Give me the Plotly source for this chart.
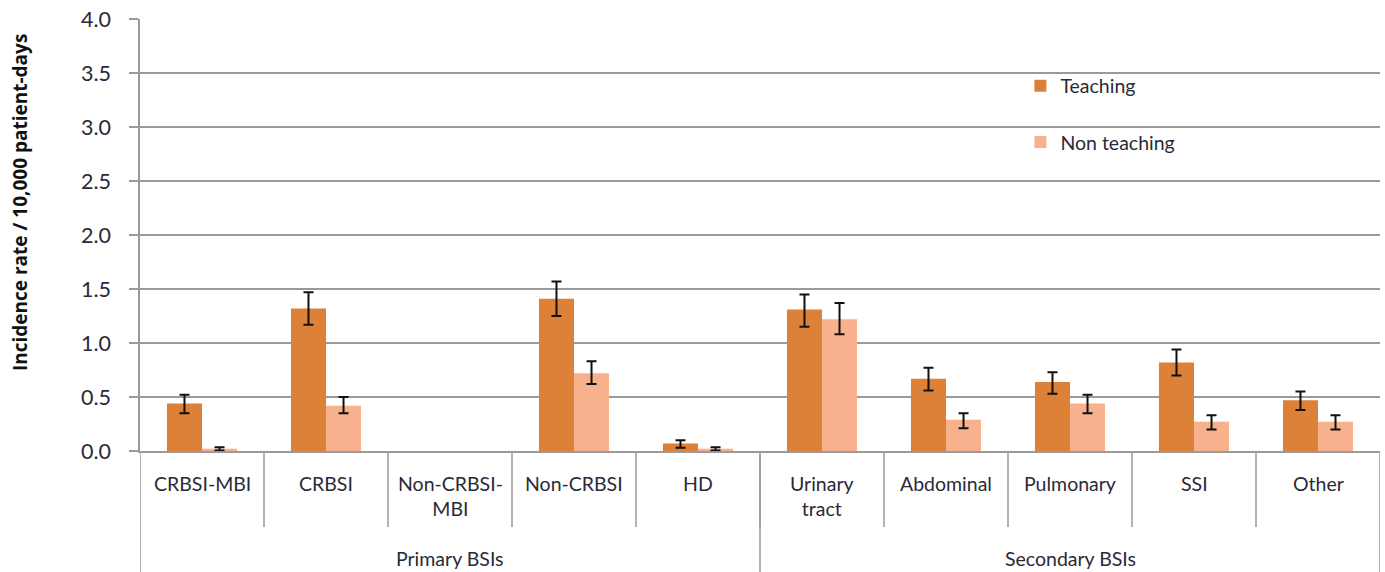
import plotly.graph_objects as go

# Incidence rates of bloodstream infections per 10,000 patient-days
categories = ["CRBSI-MBI", "CRBSI", "Non-CRBSI-<br>MBI", "Non-CRBSI", "HD",
              "Urinary<br>tract", "Abdominal", "Pulmonary", "SSI", "Other"]
groups = ["Primary BSIs", "Secondary BSIs"]
group_sizes = [5, 5]

teaching = [0.44, 1.32, 0.0, 1.41, 0.07, 1.31, 0.67, 0.64, 0.82, 0.47]
teaching_hi = [0.52, 1.47, None, 1.57, 0.10, 1.45, 0.77, 0.73, 0.94, 0.55]
teaching_lo = [0.35, 1.17, None, 1.25, 0.03, 1.15, 0.56, 0.53, 0.70, 0.38]

non_teaching = [0.02, 0.42, 0.0, 0.72, 0.02, 1.22, 0.29, 0.44, 0.27, 0.27]
non_teaching_hi = [0.035, 0.50, None, 0.83, 0.035, 1.37, 0.35, 0.52, 0.33, 0.33]
non_teaching_lo = [0.005, 0.35, None, 0.62, 0.005, 1.08, 0.21, 0.35, 0.20, 0.20]

y_ticks = [0.0, 0.5, 1.0, 1.5, 2.0, 2.5, 3.0, 3.5, 4.0]

TEACH_COLOR = "#DD8038"
NON_COLOR = "#F7B18C"
TEXT_COLOR = "#2a2a38"
FONT = "Lato, 'Open Sans', sans-serif"
LINE_GREY = "#9a9a9a"


def shown(vals, bound):
    # categories without a confidence interval have no reported cases
    return [v if b is not None else None for v, b in zip(vals, bound)]


def err(vals, bound, upper):
    out = []
    for v, b in zip(vals, bound):
        if b is None:
            out.append(None)
        else:
            out.append(round((b - v) if upper else (v - b), 4))
    return out


x = list(range(len(categories)))

fig = go.Figure()
fig.add_trace(go.Bar(
    x=x, y=shown(teaching, teaching_hi), name="Teaching",
    marker_color=TEACH_COLOR, marker_line_width=0, legendgroup="a",
    error_y=dict(type="data", symmetric=False,
                 array=err(teaching, teaching_hi, True),
                 arrayminus=err(teaching, teaching_lo, False),
                 color="#111111", thickness=2, width=5),
))
fig.add_trace(go.Bar(
    x=x, y=shown(non_teaching, non_teaching_hi), name="Non teaching",
    marker_color=NON_COLOR, marker_line_width=0, legendgroup="b",
    error_y=dict(type="data", symmetric=False,
                 array=err(non_teaching, non_teaching_hi, True),
                 arrayminus=err(non_teaching, non_teaching_lo, False),
                 color="#111111", thickness=2, width=5),
))

shapes = []
annotations = []
n = len(categories)

# Category dividers below the axis
for i in range(1, n):
    shapes.append(dict(type="line", xref="x", yref="paper",
                       x0=i - 0.5, x1=i - 0.5, y0=0, y1=-0.176,
                       line=dict(color=LINE_GREY, width=1.5)))

# Group dividers reaching the bottom edge
edges = [0]
for s in group_sizes:
    edges.append(edges[-1] + s)
for e in edges:
    shapes.append(dict(type="line", xref="x", yref="paper",
                       x0=e - 0.5, x1=e - 0.5, y0=0, y1=-0.29,
                       line=dict(color=LINE_GREY, width=1.5)))

# Category labels
for i, c in enumerate(categories):
    annotations.append(dict(x=i, y=0, xref="x", yref="paper", text=c,
                            showarrow=False, yanchor="top", yshift=-19,
                            font=dict(family=FONT, size=19.5, color=TEXT_COLOR),
                            align="center"))

# Group labels
for g, a, b in zip(groups, edges[:-1], edges[1:]):
    annotations.append(dict(x=(a + b - 1) / 2, y=0, xref="x", yref="paper",
                            text=g, showarrow=False, yanchor="middle",
                            yshift=-107,
                            font=dict(family=FONT, size=19.5, color=TEXT_COLOR)))

# Y-axis title
annotations.append(dict(x=0, y=0.574, xref="paper", yref="paper",
                        text="<b>Incidence rate / 10,000 patient-days</b>",
                        textangle=-90, showarrow=False, xshift=-120,
                        xanchor="center",
                        font=dict(family="'Open Sans', sans-serif", size=19,
                                  color="#111111")))

fig.update_layout(
    width=1385, height=572,
    margin=dict(l=140, r=5, t=19, b=121),
    paper_bgcolor="white", plot_bgcolor="white",
    barmode="group", bargap=0.435, bargroupgap=0,
    showlegend=True,
    legend=dict(x=0.71, y=0.89, xanchor="left", yanchor="top",
                font=dict(family=FONT, size=19.5, color=TEXT_COLOR),
                tracegroupgap=28, bgcolor="rgba(0,0,0,0)"),
    shapes=shapes, annotations=annotations,
    xaxis=dict(range=[-0.5, n - 0.5], showticklabels=False, showgrid=False,
               zeroline=False, showline=True, linecolor=LINE_GREY,
               linewidth=1.5, ticks=""),
    yaxis=dict(range=[0, 4.0], tickvals=y_ticks,
               ticktext=[f"{v:.1f}" for v in y_ticks],
               showgrid=True, gridcolor=LINE_GREY, gridwidth=1.5,
               zeroline=False, showline=True, linecolor=LINE_GREY,
               linewidth=1.5, ticks="outside", ticklen=9,
               tickcolor=LINE_GREY, tickwidth=1.5, ticklabelstandoff=14,
               tickfont=dict(family=FONT, size=21.5, color=TEXT_COLOR)),
)

fig.write_html("out.html")
